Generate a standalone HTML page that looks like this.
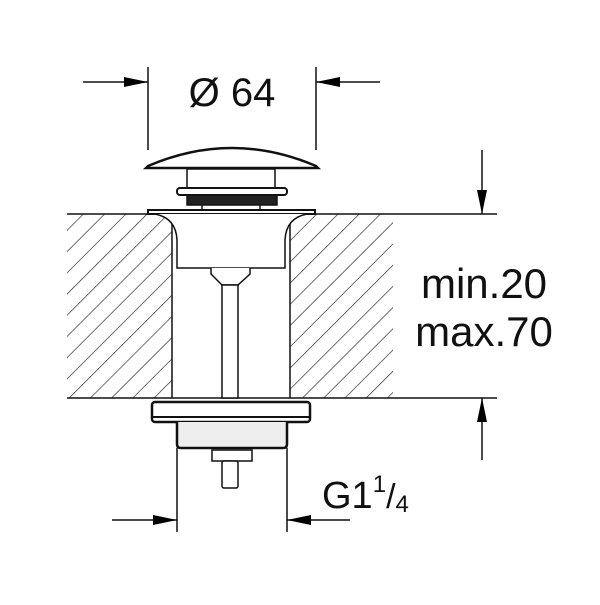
<!DOCTYPE html>
<html><head><meta charset="utf-8"><style>body{margin:0;background:#fff}</style></head><body>
<svg width="600" height="600" viewBox="0 0 600 600" xmlns="http://www.w3.org/2000/svg" font-family="Liberation Sans, Arial, sans-serif">
<defs>
<pattern id="h" patternUnits="userSpaceOnUse" width="15" height="15" patternTransform="rotate(45)">
<line x1="0" y1="0" x2="0" y2="15" stroke="#222" stroke-width="1.3"/>
</pattern>
<marker id="b" markerWidth="24" markerHeight="10" refX="24" refY="5" orient="auto" markerUnits="userSpaceOnUse"><path d="M0,0 L24,5 L0,10 Z" fill="#000"/></marker>
</defs>
<g stroke="#111" stroke-width="1.5" fill="none">
<rect x="67" y="214" width="105" height="184" fill="url(#h)" stroke="none"/>
<rect x="290" y="214" width="103" height="184" fill="url(#h)" stroke="none"/>
<line x1="67" y1="214" x2="497" y2="214"/>
<line x1="67" y1="398" x2="497" y2="398"/>
<line x1="172" y1="222" x2="172" y2="398"/>
<line x1="290" y1="222" x2="290" y2="398"/>
<path d="M148,166 Q232,130 316,166 L318,168 L146,168 Z" fill="#fff" stroke-width="2.5"/>
<rect x="187" y="169" width="88" height="19" fill="#fff"/>
<rect x="177" y="188" width="110" height="7" rx="3" fill="#fff" stroke-width="2"/>
<rect x="187" y="195" width="90" height="10" fill="#222"/>
<line x1="202" y1="205" x2="202" y2="211"/><line x1="260" y1="205" x2="260" y2="211"/>
<rect x="148" y="210" width="167" height="4" fill="#fff" stroke-width="2"/>
<path d="M155,214 Q176,218 177,240 L177,268 L285,268 L285,240 Q286,218 307,214" fill="#fff"/>
<path d="M211,268 L211,274 L222,285 L238,285 L250,274 L250,268" fill="#fff"/>
<rect x="222" y="285" width="16" height="113" fill="#fff"/>
<rect x="152" y="402" width="158" height="20" rx="3" fill="#fff" stroke-width="2.5"/>
<line x1="152" y1="417" x2="310" y2="417" stroke-width="2"/>
<path d="M177,422 L177,444 Q177,448 181,448 L283,448 Q287,448 287,444 L287,422" fill="#eee" stroke-width="2.5"/>
<rect x="212" y="450" width="40" height="11" fill="#fff"/>
<rect x="222" y="461" width="16" height="27" rx="2" fill="#fff"/>
<line x1="148" y1="67" x2="148" y2="150"/>
<line x1="316" y1="67" x2="316" y2="150"/>
<line x1="83" y1="82" x2="148" y2="82" marker-end="url(#b)"/>
<line x1="380" y1="82" x2="316" y2="82" marker-end="url(#b)"/>
<line x1="177" y1="448" x2="177" y2="532"/>
<line x1="287" y1="448" x2="287" y2="532"/>
<line x1="112" y1="520" x2="177" y2="520" marker-end="url(#b)"/>
<line x1="350" y1="520" x2="287" y2="520" marker-end="url(#b)"/>
<line x1="482" y1="150" x2="482" y2="214" marker-end="url(#b)"/>
<line x1="482" y1="460" x2="482" y2="398" marker-end="url(#b)"/>
</g>
<g fill="#111" font-size="42">
<text x="232" y="106" text-anchor="middle" font-size="40">Ø 64</text>
<text x="484" y="298" text-anchor="middle">min.20</text>
<text x="484" y="346" text-anchor="middle">max.70</text>
<text x="322" y="508" font-size="38">G1<tspan font-size="24" dy="-16">1</tspan><tspan font-size="34" dy="16">/</tspan><tspan font-size="24" dy="4">4</tspan></text>
</g>
</svg>
</body></html>
